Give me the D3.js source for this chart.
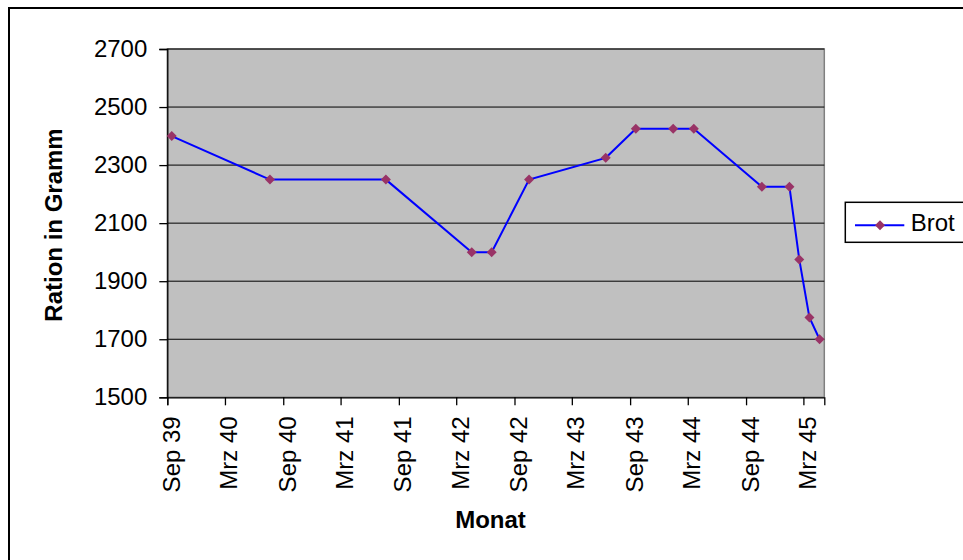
<!DOCTYPE html>
<html>
<head>
<meta charset="utf-8">
<script src="https://cdn.jsdelivr.net/npm/d3@7"></script>
<style>
	body { margin: 0; background: white; }
	svg { display: block; font-family: "Liberation Sans", Arial, sans-serif; }
</style>
</head>
<body>
<svg id="chart" width="963" height="560"></svg>
<script>
// data: dates of the ration changes, grams of bread per week
var dates = ["1939-09-15", "1940-07-21", "1941-07-22", "1942-04-19", "1942-06-21",
	"1942-10-17", "1943-06-16", "1943-09-19", "1944-01-15", "1944-03-20",
	"1944-10-21", "1945-01-16", "1945-02-16", "1945-03-20", "1945-04-21"];
var brot = [2400, 2250, 2250, 2000, 2000, 2250, 2325, 2425, 2425, 2425, 2225, 2225, 1975, 1775, 1700];

var xTickDates = ["1939-09-01", "1940-03-01", "1940-09-01", "1941-03-01", "1941-09-01", "1942-03-01",
	"1942-09-01", "1943-03-01", "1943-09-01", "1944-03-01", "1944-09-01", "1945-03-01"];
var xTickLabels = ["Sep 39", "Mrz 40", "Sep 40", "Mrz 41", "Sep 41", "Mrz 42",
	"Sep 42", "Mrz 43", "Sep 43", "Mrz 44", "Sep 44", "Mrz 45"];
var yTicks = [1500, 1700, 1900, 2100, 2300, 2500, 2700];

!function() {
	var colors = {
		plot: "#c0c0c0",
		grid: "#000",
		line: "#0000ff",
		marker: "#993366",
		frame: "#000"
	};
	var plot = { left: 167.3, right: 824.3, top: 49, bottom: 397.3 };
	var parse = d3.utcParse("%Y-%m-%d");

	var data = dates.map(function(d, i) { return { date: parse(d), value: brot[i] }; });
	var tickDates = xTickDates.map(parse);

	var svg = d3.select("#chart");

	//outer chart frame, runs past the window on the right and bottom
	svg.append("rect")
		.attr("x", 9).attr("y", 8)
		.attr("width", 980).attr("height", 600)
		.attr("fill", "white")
		.attr("stroke", colors.frame)
		.attr("stroke-width", 2);

	var x = d3.scaleUtc()
		.domain([parse("1939-09-01"), parse("1945-05-06")])
		.range([plot.left, plot.right]);

	var y = d3.scaleLinear()
		.domain([1500, 2700])
		.range([plot.bottom, plot.top]);

	svg.append("rect")
		.attr("x", plot.left).attr("y", plot.top)
		.attr("width", plot.right - plot.left)
		.attr("height", plot.bottom - plot.top)
		.attr("fill", colors.plot)
		.attr("stroke", "#808080")
		.attr("stroke-width", 1.5);

	//horizontal gridlines
	svg.append("g").selectAll("line")
		.data(yTicks.slice(1))
		.enter().append("line")
		.attr("x1", plot.left).attr("x2", plot.right)
		.attr("y1", function(d) { return y(d); })
		.attr("y2", function(d) { return y(d); })
		.attr("stroke", colors.grid)
		.attr("stroke-width", 1);

	var yAxis = d3.axisLeft(y)
		.tickValues(yTicks)
		.tickFormat(d3.format("d"))
		.tickSize(8)
		.tickPadding(12);
	var yAxisGroup = svg.append("g")
		.attr("transform", "translate(" + plot.left + ",0)")
		.call(yAxis);
	yAxisGroup.select(".domain").attr("stroke", "#000").attr("stroke-width", 1.3);
	yAxisGroup.selectAll(".tick line").attr("stroke", "#000").attr("stroke-width", 1.3);
	yAxisGroup.selectAll(".tick text")
		.attr("font-size", "24px")
		.attr("font-family", "Liberation Sans, Arial, sans-serif")
		.attr("fill", "#000");

	var xAxis = d3.axisBottom(x)
		.tickValues(tickDates)
		.tickSize(8)
		.tickFormat(function(d, i) { return xTickLabels[i]; });
	var xAxisGroup = svg.append("g")
		.attr("transform", "translate(0," + plot.bottom + ")")
		.call(xAxis);
	xAxisGroup.select(".domain").attr("stroke", "#000").attr("stroke-width", 1.3);
	xAxisGroup.selectAll(".tick line").attr("stroke", "#000").attr("stroke-width", 1.3);
	xAxisGroup.selectAll(".tick text")
		.attr("transform", "rotate(-90)")
		.attr("text-anchor", "end")
		.attr("x", -19)
		.attr("y", 0)
		.attr("dy", "0.5em")
		.attr("font-size", "24px")
		.attr("font-family", "Liberation Sans, Arial, sans-serif")
		.attr("fill", "#000");

	//axis titles
	svg.append("text")
		.attr("transform", "translate(62,225) rotate(-90)")
		.attr("text-anchor", "middle")
		.attr("font-size", "24px")
		.attr("font-weight", "bold")
		.text("Ration in Gramm");

	svg.append("text")
		.attr("x", 490.5).attr("y", 528)
		.attr("text-anchor", "middle")
		.attr("font-size", "24px")
		.attr("font-weight", "bold")
		.text("Monat");

	var line = d3.line()
		.x(function(d) { return x(d.date); })
		.y(function(d) { return y(d.value); });

	svg.append("path")
		.datum(data)
		.attr("d", line)
		.attr("fill", "none")
		.attr("stroke", colors.line)
		.attr("stroke-width", 2);

	var diamond = d3.symbol(d3.symbolSquare, 50);
	svg.append("g").selectAll("path")
		.data(data)
		.enter().append("path")
		.attr("d", diamond)
		.attr("transform", function(d) {
			return "translate(" + x(d.date) + "," + y(d.value) + ") rotate(45)";
		})
		.attr("fill", colors.marker);

	//legend
	var legend = svg.append("g").attr("transform", "translate(845.3,202.3)");
	legend.append("rect")
		.attr("width", 140).attr("height", 40)
		.attr("fill", "white")
		.attr("stroke", "#000")
		.attr("stroke-width", 1.5);
	legend.append("line")
		.attr("x1", 9.7).attr("x2", 59)
		.attr("y1", 23).attr("y2", 23)
		.attr("stroke", colors.line)
		.attr("stroke-width", 2);
	legend.append("path")
		.attr("d", diamond)
		.attr("transform", "translate(34.7,23) rotate(45)")
		.attr("fill", colors.marker);
	legend.append("text")
		.attr("x", 65.4).attr("y", 28.4)
		.attr("font-size", "24px")
		.text("Brot");
}();
</script>
</body>
</html>
